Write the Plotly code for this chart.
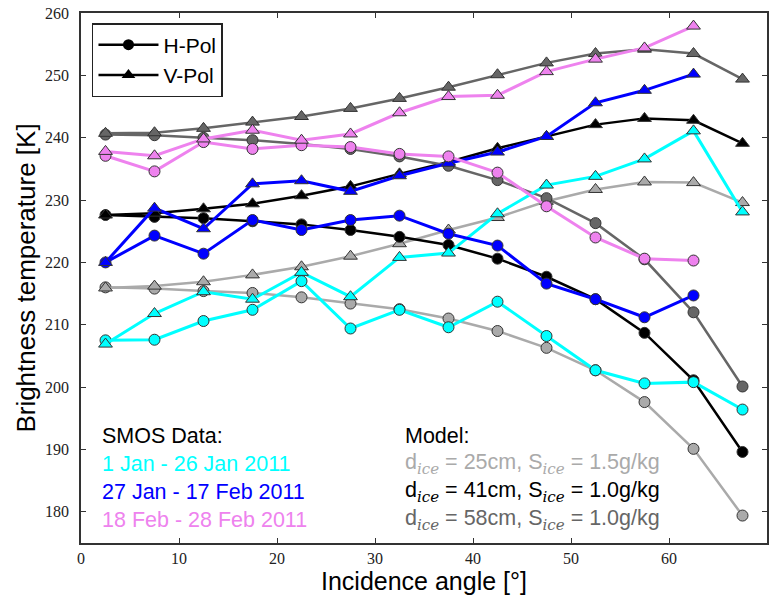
import plotly.graph_objects as go

# ---------------- data ----------------
angles = [2.5, 7.5, 12.5, 17.5, 22.5, 27.5, 32.5, 37.5, 42.5, 47.5, 52.5, 57.5, 62.5, 67.5]

model25_h = [216.0, 215.8, 215.4, 215.1, 214.4, 213.4, 212.5, 211.0, 209.0, 206.3, 202.7, 197.6, 190.1, 179.4]
model25_v = [215.9, 216.2, 216.9, 218.0, 219.3, 221.0, 223.0, 225.2, 227.2, 229.8, 231.7, 232.9, 232.8, 229.6]
model41_h = [227.6, 227.3, 227.1, 226.6, 226.1, 225.2, 224.1, 222.8, 220.6, 217.7, 214.1, 208.7, 201.1, 189.6]
model41_v = [227.6, 227.9, 228.6, 229.4, 230.7, 232.2, 234.2, 236.1, 238.3, 240.2, 242.1, 243.1, 242.8, 239.1]
model58_h = [240.5, 240.4, 240.0, 239.6, 239.0, 238.2, 237.0, 235.5, 233.2, 230.3, 226.3, 220.5, 212.0, 200.1]
model58_v = [240.7, 240.8, 241.5, 242.5, 243.4, 244.7, 246.3, 248.1, 250.1, 252.0, 253.5, 254.2, 253.5, 249.4]

cyan_h = [207.5, 207.6, 210.6, 212.4, 217.0, 209.4, 212.4, 209.6, 213.7, 208.2, 202.7, 200.6, 200.8, 196.4]
cyan_v = [206.9, 211.8, 215.3, 214.1, 218.4, 214.5, 220.8, 221.5, 227.8, 232.4, 233.8, 236.6, 241.1, 228.1]
blue_h = [220.0, 224.3, 221.4, 226.8, 225.2, 226.8, 227.5, 224.6, 222.7, 216.6, 214.1, 211.2, 214.7]
blue_v = [220.0, 228.7, 225.4, 232.6, 233.1, 231.4, 233.9, 235.9, 237.7, 240.2, 245.6, 247.6, 250.2]
pink_h = [237.1, 234.6, 239.3, 238.2, 238.8, 238.5, 237.4, 237.0, 234.4, 229.0, 224.0, 220.6, 220.3]
pink_v = [237.8, 237.1, 239.8, 241.2, 239.6, 240.6, 244.0, 246.6, 246.8, 250.6, 252.6, 254.4, 257.9]

x_ticks = [0, 10, 20, 30, 40, 50, 60, 70]
y_ticks = [180, 190, 200, 210, 220, 230, 240, 250, 260]

smos_labels = ["1 Jan - 26 Jan 2011", "27 Jan - 17 Feb 2011", "18 Feb - 28 Feb 2011"]
model_thick = ["25cm", "41cm", "58cm"]
model_sal = ["1.5g/kg", "1.0g/kg", "1.0g/kg"]

C_CYAN = "#00FFFF"
C_BLUE = "#0000FF"
C_PINK = "#EE82EE"
C_LGRAY = "#AAAAAA"
C_BLACK = "#000000"
C_DGRAY = "#666666"
EDGE = "#333333"

fig = go.Figure()


def add(y, color, symbol, lw, size):
    fig.add_trace(go.Scatter(
        x=angles[:len(y)], y=y, mode="lines+markers",
        line=dict(color=color, width=lw),
        marker=dict(symbol=symbol, size=size, color=color,
                    line=dict(color=EDGE, width=1)),
        showlegend=False, hoverinfo="skip"))


# models
for (h, v, c) in [(model25_h, model25_v, C_LGRAY),
                  (model41_h, model41_v, C_BLACK),
                  (model58_h, model58_v, C_DGRAY)]:
    add(h, c, "circle", 2.5, 11)
    add(v, c, "triangle-up", 2.5, 12)

# SMOS data
for (h, v, c) in [(cyan_h, cyan_v, C_CYAN),
                  (blue_h, blue_v, C_BLUE),
                  (pink_h, pink_v, C_PINK)]:
    add(h, c, "circle", 3, 11)
    add(v, c, "triangle-up", 3, 12)

# legend entries
fig.add_trace(go.Scatter(x=[None], y=[None], mode="lines+markers", name="H-Pol",
                         line=dict(color="black", width=2.5),
                         marker=dict(symbol="circle", size=11, color="black")))
fig.add_trace(go.Scatter(x=[None], y=[None], mode="lines+markers", name="V-Pol",
                         line=dict(color="black", width=2.5),
                         marker=dict(symbol="triangle-up", size=12, color="black")))

# text annotations
SANS = "Liberation Sans, Arial, sans-serif"
SERIF = "DejaVu Serif, Liberation Serif, serif"
sub = '<sub><span style="font-family:%s"><i>ice</i></span></sub>' % SERIF
ann = []
y0 = 192.2
dy = 4.53
ann.append(dict(x=1.9, y=y0, text="SMOS Data:", font=dict(color="black")))
for i, (t, c) in enumerate(zip(smos_labels, [C_CYAN, C_BLUE, C_PINK])):
    ann.append(dict(x=1.9, y=y0 - dy * (i + 1), text=t, font=dict(color=c)))
ann.append(dict(x=32.9, y=y0, text="Model:", font=dict(color="black")))
for i, (d, s, c) in enumerate(zip(model_thick, model_sal, [C_LGRAY, C_BLACK, C_DGRAY])):
    ann.append(dict(x=32.9, y=y0 - dy * (i + 1),
                    text="d" + sub + " = " + d + ", S" + sub + " = " + s,
                    font=dict(color=c)))
for a in ann:
    a.update(xref="x", yref="y", xanchor="left", yanchor="middle", showarrow=False)
    a["font"].update(size=21.5, family=SANS)

axis_common = dict(
    showgrid=False, zeroline=False, showline=True, mirror="ticks",
    automargin=False,
    linecolor=EDGE, linewidth=1.5, ticks="inside", ticklen=5, tickwidth=1,
    tickcolor=EDGE,
    tickfont=dict(family="Liberation Serif, DejaVu Serif, serif", size=16, color="#222"),
)

fig.update_layout(
    width=774, height=597,
    margin=dict(l=81, r=7, t=13, b=54),
    paper_bgcolor="white", plot_bgcolor="white",
    annotations=ann,
    showlegend=True,
    legend=dict(x=0.016, y=0.981, xanchor="left", yanchor="top",
                bordercolor="#222", borderwidth=1.5, bgcolor="white",
                font=dict(family=SANS, size=21, color="black"),
                itemwidth=60),
    xaxis=dict(range=[0, 70], tickvals=x_ticks,
               title=dict(text="Incidence angle [°]", standoff=7,
                          font=dict(family=SANS, size=25, color="black")),
               **axis_common),
    yaxis=dict(range=[175, 260], tickvals=y_ticks, ticklabelstandoff=7,
               title=dict(text="Brightness temperature [K]", standoff=2,
                          font=dict(family=SANS, size=26, color="black")),
               **axis_common),
)

fig.write_html("out.html", config={"displayModeBar": False},
               post_script="document.body.style.margin='0';document.body.style.overflow='hidden';")
